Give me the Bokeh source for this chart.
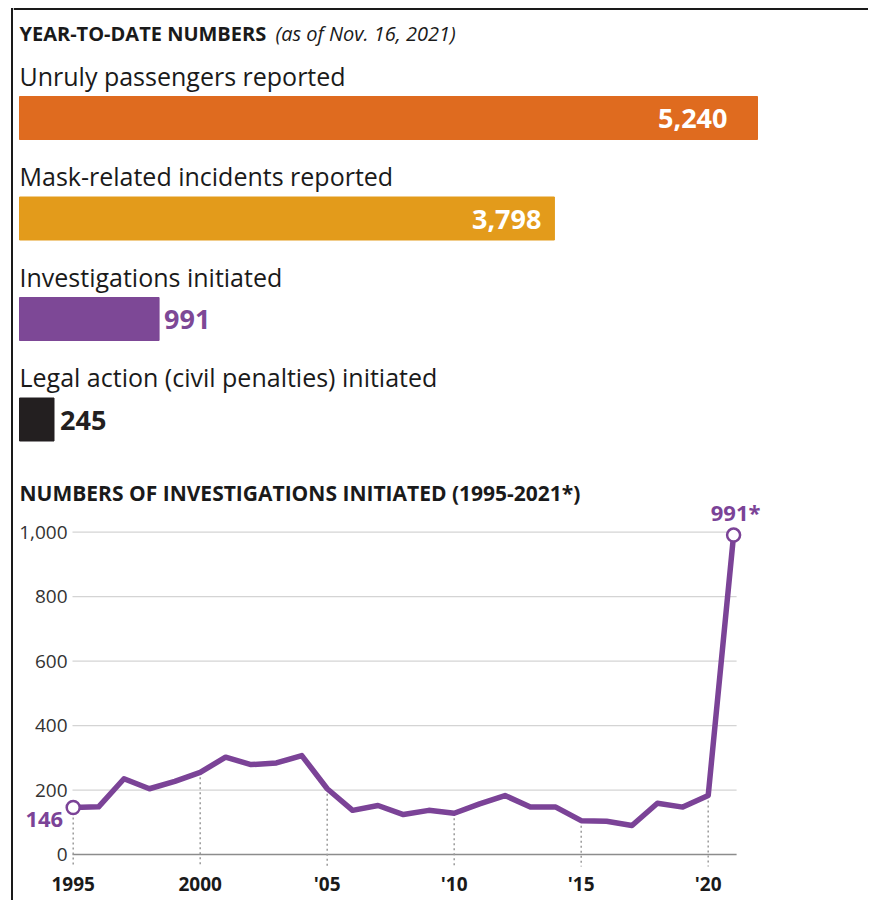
from bokeh.plotting import figure
from bokeh.models import Range1d, ColumnDataSource, FixedTicker, Span, NumeralTickFormatter
from bokeh.layouts import row, column
from bokeh.core.properties import value
from bokeh.embed import file_html
from bokeh.resources import INLINE

# ---------------- data ----------------
bar_labels = ["Unruly passengers reported",
              "Mask-related incidents reported",
              "Investigations initiated",
              "Legal action (civil penalties) initiated"]
bar_values = [5240, 3798, 991, 245]
bar_colors = ["#DF6B1F", "#E39B1B", "#7D4896", "#231F20"]

years = list(range(1995, 2022))
investigations = [146, 148, 235, 204, 227, 255, 302, 279, 284, 307,
                  204, 137, 152, 124, 137, 128, 157, 183, 147, 147,
                  105, 103, 90, 159, 147, 183, 991]

y_ticks = [0, 200, 400, 600, 800, 1000]
x_ticks = [1995, 2000, 2005, 2010, 2015, 2020]
x_tick_labels = ["1995", "2000", "'05", "'10", "'15", "'20"]

# ---------------- style ----------------
FONT = value("Open Sans")
INK = "#1a1a1a"
PURPLE = "#7B4397"
value_pad = [30, 13, 5, 6]
LIFT = -9        # baseline correction for text glyphs (px)

BW = 13          # left strip holding the frame border
W = 855
H1 = 470
H2 = 430
TOTAL_H = H1 + H2

# ---------------- left border strip ----------------
pb = figure(width=BW, height=TOTAL_H, x_range=Range1d(0, BW), y_range=Range1d(TOTAL_H, 0),
            x_axis_location=None, y_axis_location=None, min_border=0,
            output_backend="svg", toolbar_location=None)
pb.grid.visible = False
pb.outline_line_color = None
pb.segment(x0=[11.5], y0=[7.5], x1=[11.5], y1=[TOTAL_H], line_color=INK, line_width=2)
pb.segment(x0=[10.5], y0=[8.5], x1=[BW], y1=[8.5], line_color=INK, line_width=2)

# ---------------- bars ----------------
k = bar_values[0] / 738.0          # data units per pixel
row_px = 100.5
row0 = 117.5
p1 = figure(width=W, height=H1,
            x_range=Range1d(-6 * k, -6 * k + W * k),
            y_range=Range1d((H1 - row0) / row_px, -row0 / row_px),
            x_axis_location=None, y_axis_location=None,
            output_backend="svg", toolbar_location=None, min_border=0)
p1.grid.visible = False
p1.outline_line_color = None
p1.add_layout(Span(location=(8.5 - row0) / row_px, dimension="width",
                   line_color=INK, line_width=2))

idx = list(range(len(bar_values)))
inside = [v > 2000 for v in bar_values]
src = ColumnDataSource(dict(
    y=idx, v=bar_values, c=bar_colors, lab=bar_labels,
    ly=[i - 33.5 / row_px for i in idx],
    vy=[i + 9.5 / row_px for i in idx],
    vt=[f"{v:,}" for v in bar_values],
    va=["right" if f else "left" for f in inside],
    vo=[-pad if f else pad for f, pad in zip(inside, value_pad)],
    vc=["white" if f else c for f, c in zip(inside, bar_colors)],
))
p1.hbar(y="y", left=0, right="v", height=43 / row_px, color="c", source=src)
p1.text(x=0, y="ly", text="lab", y_offset=LIFT, text_font=FONT, text_font_size="25px",
        text_color=INK, text_baseline="alphabetic", source=src)
p1.text(x="v", y="vy", text="vt", x_offset="vo", y_offset=LIFT, text_align="va",
        text_color="vc", text_font=FONT, text_font_size="27px",
        text_font_style="bold", text_baseline="alphabetic", source=src)

p1.text(x=[0], y=[(41 - row0) / row_px], text=["YEAR-TO-DATE NUMBERS"],
        y_offset=LIFT + 1, text_font=FONT, text_font_size="20px", text_font_style="bold",
        text_color=INK, text_baseline="alphabetic")
p1.text(x=[0], y=[(41 - row0) / row_px], text=["(as of Nov. 16, 2021)"],
        x_offset=256, y_offset=LIFT + 1, text_font=FONT, text_font_size="20px",
        text_font_style="italic", text_color=INK, text_baseline="alphabetic")

# ---------------- line chart ----------------
ppu = 0.3223          # px per unit
ppy = 25.4            # px per year
frame_top_img = H1
frame_bot_img = 866
zero_img = 854
x_first = years[0] - 59.7 / ppy
grid_x0 = years[0] - 0.7 / ppy
grid_x1 = years[-1] + 3 / ppy
y_top = (zero_img - frame_top_img) / ppu

p2 = figure(width=W, height=H2,
            x_range=Range1d(x_first, x_first + W / ppy),
            y_range=Range1d(-(frame_bot_img - zero_img) / ppu, y_top),
            output_backend="svg", toolbar_location=None,
            min_border_left=0, min_border_right=0,
            min_border_top=0, min_border_bottom=TOTAL_H - frame_bot_img)
p2.outline_line_color = None
p2.grid.visible = False

p2.yaxis.fixed_location = grid_x0
p2.yaxis.ticker = FixedTicker(ticks=y_ticks)
p2.yaxis.formatter = NumeralTickFormatter(format="0,0")
p2.yaxis.axis_line_color = None
p2.yaxis.major_tick_line_color = None
p2.yaxis.minor_tick_line_color = None
p2.yaxis.major_tick_out = 0
p2.yaxis.major_tick_in = 0
p2.yaxis.major_label_standoff = 5
p2.yaxis.major_label_text_font = "Open Sans"
p2.yaxis.major_label_text_font_size = "19px"
p2.yaxis.major_label_text_color = "#333333"

p2.xaxis.ticker = FixedTicker(ticks=x_ticks)
p2.xaxis.major_label_overrides = {t: l for t, l in zip(x_ticks, x_tick_labels)}
p2.xaxis.axis_line_color = None
p2.xaxis.major_tick_line_color = None
p2.xaxis.minor_tick_line_color = None
p2.xaxis.major_tick_out = 0
p2.xaxis.major_tick_in = 0
p2.xaxis.major_label_standoff = 4
p2.xaxis.major_label_text_font = "Open Sans"
p2.xaxis.major_label_text_font_size = "19px"
p2.xaxis.major_label_text_font_style = "bold"
p2.xaxis.major_label_text_color = INK

# chart title, anchored to the top-left corner of the plotting area
p2.text(x=[x_first], y=[y_top], text=["NUMBERS OF INVESTIGATIONS INITIATED (1995-2021*)"],
        x_offset=6, y_offset=30 + LIFT + 1, text_font=FONT, text_font_size="21px",
        text_font_style="bold", text_color=INK, text_baseline="alphabetic")

# horizontal grid lines (only across the plotting area) and zero baseline
p2.segment(x0=grid_x0, x1=grid_x1, y0=y_ticks[1:], y1=y_ticks[1:],
           line_color="#d4d4d4", line_width=1.3)
p2.segment(x0=[grid_x0], x1=[grid_x1], y0=[0], y1=[0],
           line_color="#8c8c8c", line_width=1.5)

tick_vals = [investigations[years.index(t)] for t in x_ticks]
p2.segment(x0=x_ticks, y0=tick_vals, x1=x_ticks, y1=[-1000] * len(x_ticks),
           line_color="#9a9a9a", line_width=1.5, line_dash="2 3")
p2.line(years, investigations, line_color=PURPLE, line_width=5.5, line_join="round")
p2.scatter(x=[years[0], years[-1]], y=[investigations[0], investigations[-1]],
           size=13, fill_color="white", line_color=PURPLE, line_width=2.5)

p2.text(x=[years[0]], y=[investigations[0]], text=[f"{investigations[0]}"],
        x_offset=-10, y_offset=12, text_align="right", text_baseline="alphabetic",
        text_font=FONT, text_font_size="22px", text_font_style="bold",
        text_color=PURPLE)
p2.text(x=[years[-1]], y=[investigations[-1]], text=[f"{investigations[-1]}*"],
        x_offset=2, y_offset=-23, text_align="center", text_baseline="alphabetic",
        text_font=FONT, text_font_size="22px", text_font_style="bold",
        text_color=PURPLE)

layout = row(pb, column(p1, p2))

open("out.html", "w").write(file_html(layout, INLINE))
